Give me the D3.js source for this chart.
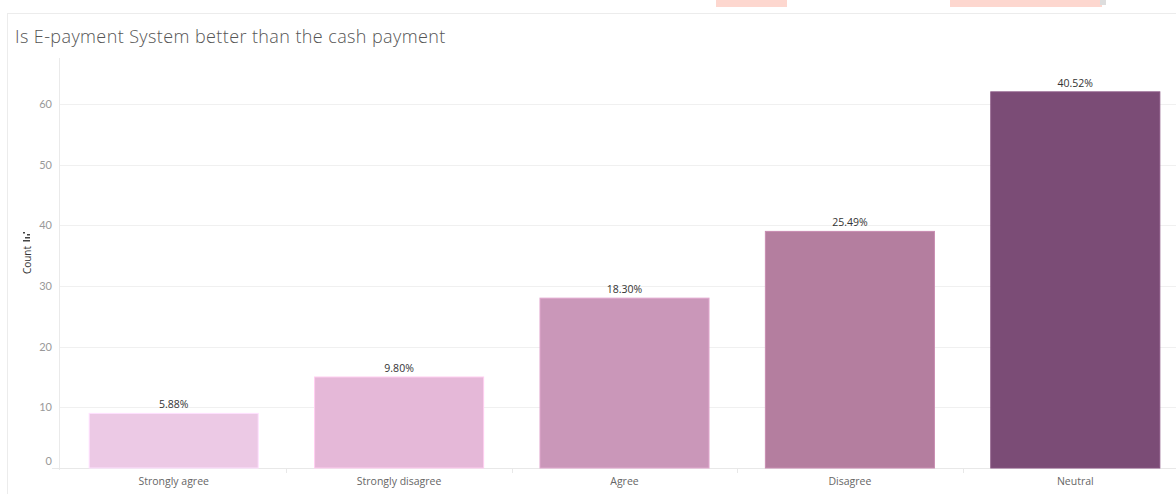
<!DOCTYPE html>
<html><head><meta charset="utf-8">
<script src="https://cdn.jsdelivr.net/npm/d3@7"></script>
<style>body{margin:0;background:#fff;overflow:hidden}svg{display:block}</style>
</head><body>
<svg id="c" width="1176" height="494"></svg>
<script>
const categories = ["Strongly agree","Strongly disagree","Agree","Disagree","Neutral"];
const counts = [9, 15, 28, 39, 62];
const pctLabels = ["5.88%","9.80%","18.30%","25.49%","40.52%"];
const colors = ["#ecc9e5","#e5b8d8","#ca97b9","#b47e9f","#7b4c76"];
const yTicks = [0,10,20,30,40,50,60];
const title = "Is E-payment System better than the cash payment";
const yTitle = "Count";

const svg = d3.select("#c");
// screenshot artifacts at top
svg.append("rect").attr("x",716).attr("y",0).attr("width",71).attr("height",7).attr("fill","#fdd7cf");
svg.append("rect").attr("x",950).attr("y",0).attr("width",152).attr("height",7).attr("fill","#fdd7cf");
svg.append("rect").attr("x",1100).attr("y",0).attr("width",6).attr("height",5).attr("fill","#ddd");

// panel border
svg.append("line").attr("x1",8).attr("x2",1176).attr("y1",13.5).attr("y2",13.5).attr("stroke","#ececec");
svg.append("line").attr("x1",7.5).attr("x2",7.5).attr("y1",13).attr("y2",494).attr("stroke","#ececec");

svg.append("text").attr("x",15).attr("y",43).text(title)
  .attr("font-family","Open Sans, Lato, sans-serif").attr("font-size",18).attr("font-weight",300)
  .attr("letter-spacing",0.4).attr("fill","#555");

const x = d3.scaleBand().domain(categories).range([61, 1188]).paddingInner(0.25).paddingOuter(0.125);
const y = d3.scaleLinear().domain([0,60]).range([468,104]);

svg.append("line").attr("x1",59.5).attr("x2",59.5).attr("y1",58).attr("y2",470).attr("stroke","#eaeaea");

const g = svg.append("g");
g.selectAll("line.grid").data(yTicks.filter(d=>d>0)).join("line")
  .attr("x1",60).attr("x2",1176).attr("y1",d=>Math.round(y(d))+0.5).attr("y2",d=>Math.round(y(d))+0.5)
  .attr("stroke","#f0f0f0");
g.selectAll("text.yt").data(yTicks).join("text")
  .attr("x",52).attr("y",d=> d===0 ? y(d)-3 : y(d)+4).attr("text-anchor","end")
  .attr("font-family","Lato, sans-serif").attr("font-size",11).attr("fill","#999").text(d=>d);

svg.append("line").attr("x1",52).attr("x2",1176).attr("y1",468.5).attr("y2",468.5).attr("stroke","#e8e8e8");
const bounds = categories.slice(1).map(c => x(c) - x.step()*x.paddingInner()/2);
svg.selectAll("line.div").data(bounds).join("line")
  .attr("x1",d=>Math.round(d)+0.5).attr("x2",d=>Math.round(d)+0.5).attr("y1",469).attr("y2",473).attr("stroke","#e8e8e8");

svg.selectAll("rect.bar").data(categories).join("rect")
  .attr("x",d=>x(d)).attr("width",x.bandwidth())
  .attr("y",(d,i)=>y(counts[i])).attr("height",(d,i)=>y(0)-y(counts[i]))
  .attr("fill",(d,i)=>colors[i]).attr("stroke",(d,i)=>d3.color(colors[i]).brighter(0.3)).attr("stroke-width",1);

svg.selectAll("text.pl").data(categories).join("text")
  .attr("x",d=>x(d)+x.bandwidth()/2).attr("y",(d,i)=>y(counts[i])-5).attr("text-anchor","middle")
  .attr("font-family","Open Sans, sans-serif").attr("font-size",10.5).attr("fill","#333").text((d,i)=>pctLabels[i]);

svg.selectAll("text.xl").data(categories).join("text")
  .attr("x",d=>x(d)+x.bandwidth()/2).attr("y",485).attr("text-anchor","middle")
  .attr("font-family","Open Sans, sans-serif").attr("font-size",10.5).attr("fill","#666").text(d=>d);

const yt = svg.append("g").attr("transform","translate(31,260) rotate(-90)");
yt.append("text").attr("x",0).attr("y",0).attr("text-anchor","middle")
  .attr("font-family","Open Sans, sans-serif").attr("font-size",10).attr("fill","#333").text(yTitle);
const ic = svg.append("g");
ic.append("rect").attr("x",23).attr("y",240).attr("width",7).attr("height",1.5).attr("fill","#444");
ic.append("rect").attr("x",25).attr("y",237).attr("width",5).attr("height",1.5).attr("fill","#444");
ic.append("rect").attr("x",27).attr("y",234).attr("width",3).attr("height",1.5).attr("fill","#444");
ic.append("rect").attr("x",23).attr("y",232).attr("width",2).attr("height",1.5).attr("fill","#444");
</script>
</body></html>
